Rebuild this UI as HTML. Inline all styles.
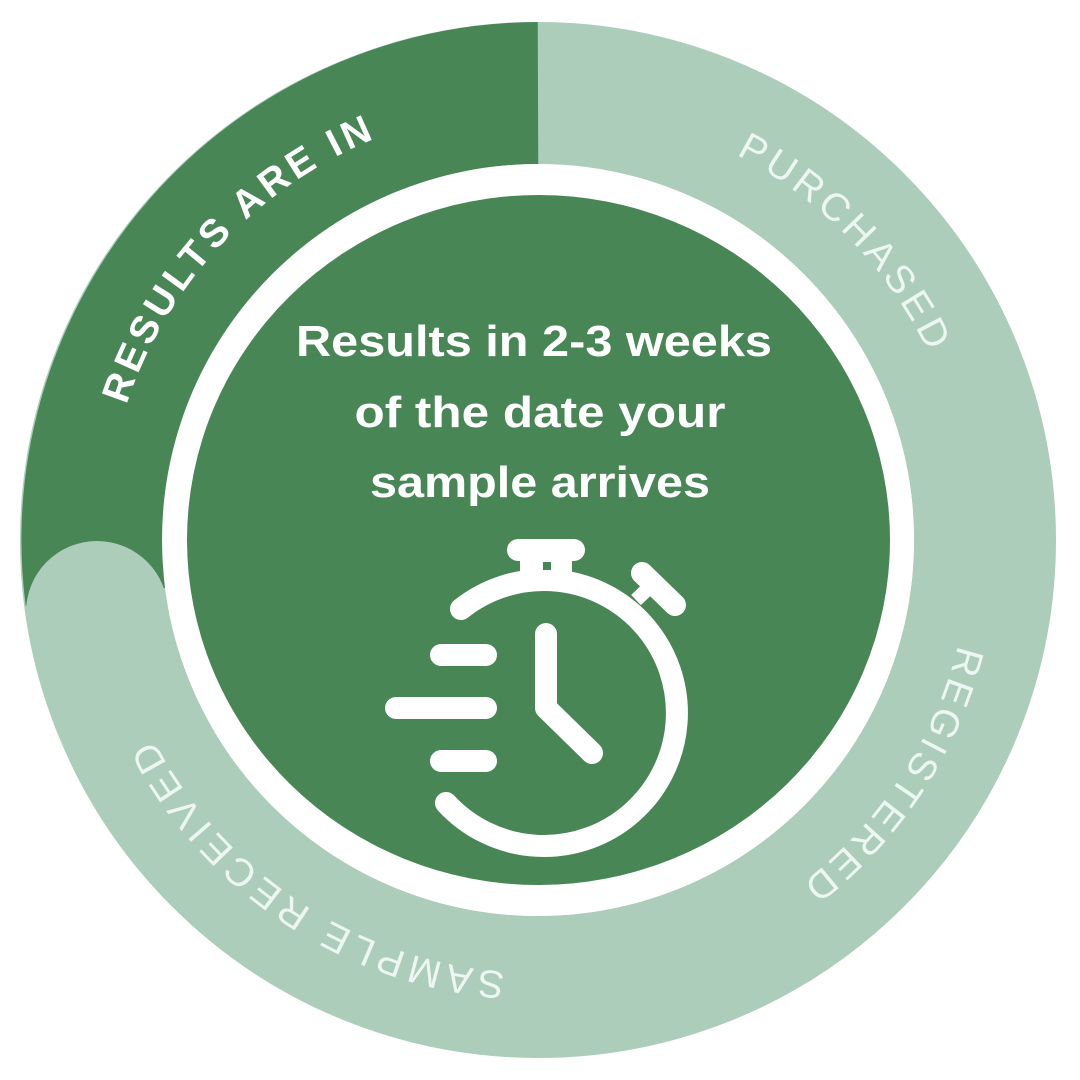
<!DOCTYPE html>
<html><head><meta charset="utf-8"><style>html,body{margin:0;padding:0;background:#fff}svg{display:block}</style></head>
<body>
<svg width="1080" height="1080" viewBox="0 0 1080 1080" xmlns="http://www.w3.org/2000/svg">
<rect width="1080" height="1080" fill="#fff"/>
<circle cx="538" cy="540" r="447" fill="none" stroke="#abcdb9" stroke-width="142"/>
<path d="M 96.1 596.6 A 447 447 0 0 1 538 93" fill="none" stroke="#488656" stroke-width="142"/>
<circle cx="97" cy="612" r="71" fill="#abcdb9"/>
<circle cx="538" cy="540" r="376" fill="#fff"/>
<ellipse cx="538.5" cy="540" rx="351.5" ry="345" fill="#488656"/>
<defs>
<path id="ring" d="M 971 540 A 433 433 0 1 1 105 540 A 433 433 0 1 1 971 540"/>
</defs>
<g font-family="Liberation Sans, sans-serif" font-size="39" text-anchor="middle">
<text fill="#fff" font-weight="bold"><textPath href="#ring" startOffset="1685" textLength="375" lengthAdjust="spacing">RESULTS ARE IN</textPath></text>
<text fill="#eef6f1"><textPath href="#ring" startOffset="2386" textLength="280" lengthAdjust="spacing">PURCHASED</textPath></text>
<text fill="#eef6f1"><textPath href="#ring" startOffset="251" textLength="290" lengthAdjust="spacing">REGISTERED</textPath></text>
<text fill="#eef6f1"><textPath href="#ring" startOffset="933" textLength="440" lengthAdjust="spacing">SAMPLE RECEIVED</textPath></text>
</g>
<g font-family="Liberation Sans, sans-serif" font-size="44" font-weight="bold" fill="#fff" text-anchor="middle">
<text x="534" y="356" textLength="476" lengthAdjust="spacingAndGlyphs">Results in 2-3 weeks</text>
<text x="540" y="427" textLength="371" lengthAdjust="spacingAndGlyphs">of the date your</text>
<text x="540" y="497" textLength="340" lengthAdjust="spacingAndGlyphs">sample arrives</text>
</g>
<g stroke="#fff" stroke-width="22" stroke-linecap="round" fill="none">
<path d="M 461 609 A 133 133 0 1 1 446 803"/>
<path d="M 546 634 L 546 708 L 592 753" stroke-linejoin="round"/>
<line x1="441" y1="655" x2="486" y2="655"/>
<line x1="396" y1="708" x2="486" y2="708"/>
<line x1="441" y1="761" x2="486" y2="761"/>
<line x1="518" y1="550" x2="574" y2="550"/>
<line x1="642" y1="573" x2="675" y2="605"/>
</g>
<rect x="520" y="556" width="52" height="20" fill="#fff"/>
<rect x="543" y="562" width="8" height="8" fill="#488656"/>
<line x1="636" y1="600" x2="657" y2="580" stroke="#fff" stroke-width="14"/>
</svg>
</body></html>
